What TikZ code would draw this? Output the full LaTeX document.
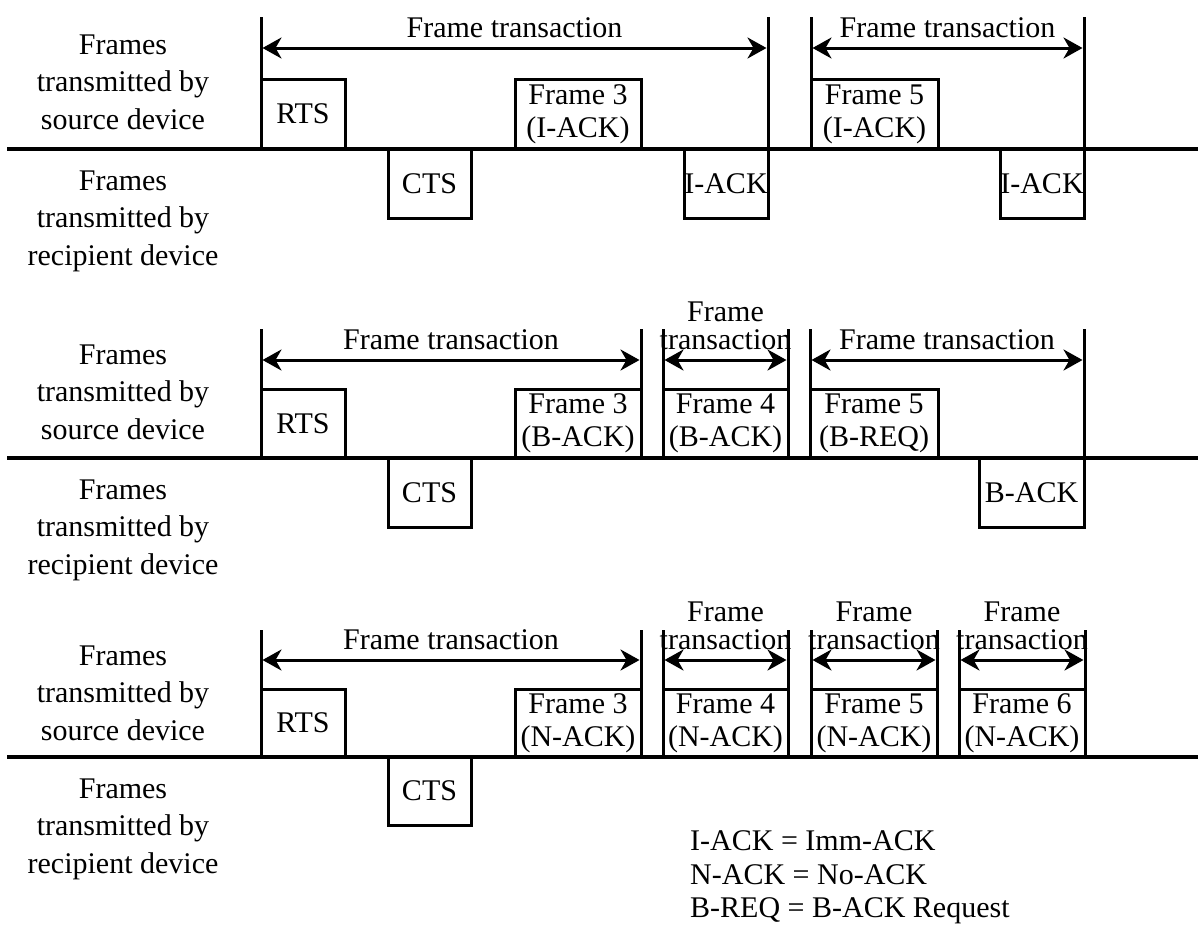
\documentclass[tikz,border=0pt]{standalone}
\usepackage{fontspec}
\setmainfont{Liberation Serif}
\usetikzlibrary{arrows.meta}
\newcommand\fbx[6]{%
  \pgfmathsetmacro\myW{#3-#2}\pgfmathsetmacro\myH{#5-#4}%
  \node[box, minimum width=\myW pt, minimum height=\myH pt] (#1) at ({(#2+#3)/2},{(#4+#5)/2}) {#6};}
\newcommand\vln[4]{% name, x, ytop, ybot
  \coordinate (#1t) at (#2,#3); \coordinate (#1b) at (#2,#4);
  \draw[ln] (#1t) -- (#1b);}
\newcommand\dimarrow[4]{% name, x1, x2, y
  \coordinate (#1a) at (#2,#4); \coordinate (#1b) at (#3,#4);
  \draw[dimln] (#1a) -- (#1b);}
\begin{document}
\begin{tikzpicture}[x=1pt,y=-1pt,
  ln/.style={line width=3pt},
  base/.style={line width=3.5pt},
  box/.style={draw, line width=3pt, inner sep=0pt, outer sep=0pt, align=center, font=\fontsize{30}{33}\selectfont},
  lbl/.style={align=center, inner sep=0pt, font=\fontsize{30}{37.5}\selectfont},
  ttl/.style={align=center, inner sep=0pt, font=\fontsize{30}{28}\selectfont},
  leg/.style={inner sep=0pt, anchor=base west, font=\fontsize{30}{35}\selectfont},
  dimln/.style={line width=3pt, {Stealth[length=19pt,width=21pt,inset=6pt]}-{Stealth[length=19pt,width=21pt,inset=6pt]}, shorten <=1.5pt, shorten >=1.5pt},
]
\useasboundingbox (0,0) rectangle (1198,924);

% ---------------- Section 1 ----------------
\coordinate (h1s) at (7,149); \coordinate (h1e) at (1198,149);
\draw[base] (h1s) -- (h1e);
\vln{v11}{261}{17}{151}
\vln{v12}{768}{17}{149}
\vln{v13}{811}{17}{151}
\vln{v14}{1084}{17}{149}
\dimarrow{d11}{261}{768}{48}
\dimarrow{d12}{811}{1084}{48}
\node[ttl] (t11) at (514.5,28) {Frame transaction};
\node[ttl] (t12) at (947.5,28) {Frame transaction};
\fbx{rts1}{261}{345}{79}{149}{RTS}
\fbx{fa13}{515}{641}{79}{149}{Frame 3\\(I-ACK)}
\fbx{fa15}{811}{938}{79}{149}{Frame 5\\(I-ACK)}
\fbx{cts1}{388}{471}{149}{218}{CTS}
\fbx{ia11}{684}{768}{149}{218}{I-ACK}
\fbx{ia12}{1000}{1084}{149}{218}{I-ACK}
\node[lbl] (src1) at (123,82) {Frames\\transmitted by\\source device};
\node[lbl] (rcp1) at (123,221) {Frames\\transmitted by\\recipient device};

% ---------------- Section 2 ----------------
\coordinate (h2s) at (7,458); \coordinate (h2e) at (1198,458);
\draw[base] (h2s) -- (h2e);
\vln{v21}{261}{329}{460}
\vln{v22}{641}{329}{458}
\vln{v23}{663}{329}{458}
\vln{v24}{788}{329}{458}
\vln{v25}{810}{329}{458}
\vln{v26}{1084}{329}{458}
\dimarrow{d21}{261}{641}{360}
\dimarrow{d22}{663}{788}{360}
\dimarrow{d23}{810}{1084}{360}
\node[ttl] (t21) at (451,340) {Frame transaction};
\node[ttl] (t22) at (725.5,326) {Frame\\transaction};
\node[ttl] (t23) at (947,340) {Frame transaction};
\fbx{rts2}{261}{345}{389}{458}{RTS}
\fbx{fb23}{515}{641}{389}{458}{Frame 3\\(B-ACK)}
\fbx{fb24}{663}{788}{389}{458}{Frame 4\\(B-ACK)}
\fbx{fb25}{810}{938}{389}{458}{Frame 5\\(B-REQ)}
\fbx{cts2}{388}{471}{458}{527}{CTS}
\fbx{ba2}{979}{1084}{458}{527}{B-ACK}
\node[lbl] (src2) at (123,392) {Frames\\transmitted by\\source device};
\node[lbl] (rcp2) at (123,530) {Frames\\transmitted by\\recipient device};

% ---------------- Section 3 ----------------
\coordinate (h3s) at (7,757); \coordinate (h3e) at (1198,757);
\draw[base] (h3s) -- (h3e);
\vln{v31}{261}{630}{759}
\vln{v32}{641}{630}{757}
\vln{v33}{663}{630}{757}
\vln{v34}{788}{630}{757}
\vln{v35}{811}{630}{757}
\vln{v36}{937}{630}{757}
\vln{v37}{959}{630}{757}
\vln{v38}{1085}{630}{757}
\dimarrow{d31}{261}{641}{660}
\dimarrow{d32}{663}{788}{660}
\dimarrow{d33}{811}{937}{660}
\dimarrow{d34}{959}{1085}{660}
\node[ttl] (t31) at (451,640) {Frame transaction};
\node[ttl] (t32) at (725.5,626) {Frame\\transaction};
\node[ttl] (t33) at (874,626) {Frame\\transaction};
\node[ttl] (t34) at (1022,626) {Frame\\transaction};
\fbx{rts3}{261}{345}{689}{757}{RTS}
\fbx{fn33}{515}{641}{689}{757}{Frame 3\\(N-ACK)}
\fbx{fn34}{663}{788}{689}{757}{Frame 4\\(N-ACK)}
\fbx{fn35}{811}{937}{689}{757}{Frame 5\\(N-ACK)}
\fbx{fn36}{959}{1085}{689}{757}{Frame 6\\(N-ACK)}
\fbx{cts3}{388}{471}{757}{825}{CTS}
\node[lbl] (src3) at (123,693) {Frames\\transmitted by\\source device};
\node[lbl] (rcp3) at (123,829) {Frames\\transmitted by\\recipient device};

% ---------------- Legend ----------------
\node[leg] (lg1) at (690,850) {I-ACK = Imm-ACK};
\node[leg] (lg2) at (690,884) {N-ACK = No-ACK};
\node[leg] (lg3) at (690,917) {B-REQ = B-ACK Request};
\end{tikzpicture}
\end{document}
